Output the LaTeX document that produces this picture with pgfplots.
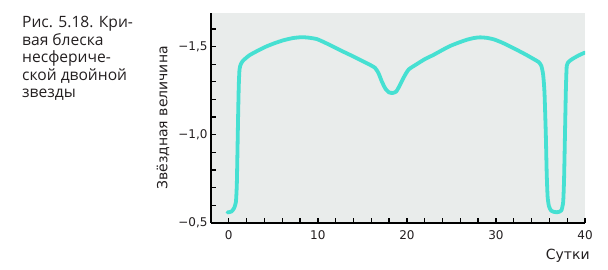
\documentclass[border=0pt]{standalone}
\usepackage{fontspec}
\setmainfont{DejaVu Sans}
\newfontfamily\capfont{Open Sans}
\usepackage{pgfplots}
\pgfplotsset{compat=1.18}
\definecolor{bg}{RGB}{233,236,235}
\definecolor{curve}{RGB}{70,224,210}
\definecolor{txt}{RGB}{35,31,32}
\begin{document}
\begin{tikzpicture}
\path (0bp,0bp) rectangle (608bp,270bp);
\begin{scope}[font=\capfont\fontsize{15.6bp}{17.5bp}\selectfont, every node/.style={anchor=base west, inner sep=0pt, text=txt}]
\node at (22bp,242bp) {Рис. 5.18. Кри-};
\node at (22bp,224.5bp) {вая блеска};
\node at (22bp,207bp) {несфериче-};
\node at (22bp,189.5bp) {ской двойной};
\node at (22bp,172bp) {звезды};
\end{scope}
\begin{axis}[
  at={(211bp,47bp)}, anchor=south west,
  scale only axis, width=374bp, height=210bp,
  xmin=-2, xmax=40, ymin=-1.69, ymax=-0.5, y dir=reverse,
  axis on top,
  axis x line=bottom, axis y line=left,
  axis line style={-, line width=1.6bp, black},
  axis background/.style={fill=bg},
  xtick={0,10,20,30,40},
  ytick={-1.5,-1,-0.5}, yticklabels={{−1,5},{−1,0},{−0,5}},
  tick align=inside,
  major tick length=5bp,
  every tick/.append style={black, line width=1.3bp},
  tick label style={font=\fontsize{12bp}{14bp}\selectfont, text=txt},
  xticklabel style={yshift=-4.5bp},
  /pgf/number format/assume math mode=true,
  xlabel={Сутки}, ylabel={Звёздная величина},
  label style={font=\fontsize{14bp}{16bp}\selectfont, text=txt},
  xlabel style={at={(axis description cs:1.013,-0.176)}, anchor=base east, inner sep=0pt},
  ylabel style={at={(axis description cs:-0.128,0.5)}, anchor=center, inner sep=0pt},
]
\addplot[curve, line width=3.8bp, line cap=round, line join=round, smooth, tension=0.35] coordinates {
(-0.15,-0.56) (0.3,-0.565) (0.6,-0.585) (0.8,-0.62) (0.9,-0.72) (0.97,-0.9)
(1.05,-1.12) (1.12,-1.28) (1.2,-1.37) (1.35,-1.40) (1.6,-1.42) (2.3,-1.45)
(3.2,-1.475) (4.2,-1.50) (5.2,-1.52) (6.1,-1.535) (7.2,-1.548) (8.2,-1.553)
(9.0,-1.550) (9.9,-1.542) (10.8,-1.522) (11.7,-1.50) (12.6,-1.477) (13.6,-1.453)
(14.6,-1.428) (15.6,-1.403) (16.4,-1.38) (16.8,-1.35) (17.2,-1.30) (17.6,-1.26)
(18.0,-1.24) (18.4,-1.237) (18.8,-1.245) (19.2,-1.28) (19.7,-1.33) (20.2,-1.37)
(21.1,-1.40) (22.0,-1.428) (23.0,-1.453) (23.9,-1.478) (24.8,-1.502) (25.8,-1.522)
(26.7,-1.538) (27.5,-1.548) (28.2,-1.552) (29.0,-1.549) (29.8,-1.540) (30.7,-1.522)
(31.6,-1.50) (32.5,-1.477) (33.4,-1.453) (34.2,-1.43) (34.8,-1.412) (35.1,-1.39)
(35.3,-1.34) (35.45,-1.24) (35.6,-1.0) (35.7,-0.78) (35.8,-0.65) (35.95,-0.595)
(36.2,-0.57) (36.6,-0.562) (37.0,-0.562) (37.35,-0.572) (37.55,-0.62) (37.65,-0.75)
(37.75,-1.0) (37.85,-1.25) (37.95,-1.39) (38.2,-1.415) (38.6,-1.43) (39.3,-1.45)
(40.0,-1.466)
};
\pgfplotsinvokeforeach{0,2,4,...,38}{\draw[black, line width=1.3bp] (axis cs:#1,-0.5) -- ++(0bp,5bp);}
\pgfplotsinvokeforeach{-1.6,-1.5,-1.4,-1.3,-1.2,-1.1,-1.0,-0.9,-0.8,-0.7,-0.6}{\draw[black, line width=1.3bp] (axis cs:-2,#1) -- ++(5bp,0bp);}
\end{axis}
\end{tikzpicture}
\end{document}
